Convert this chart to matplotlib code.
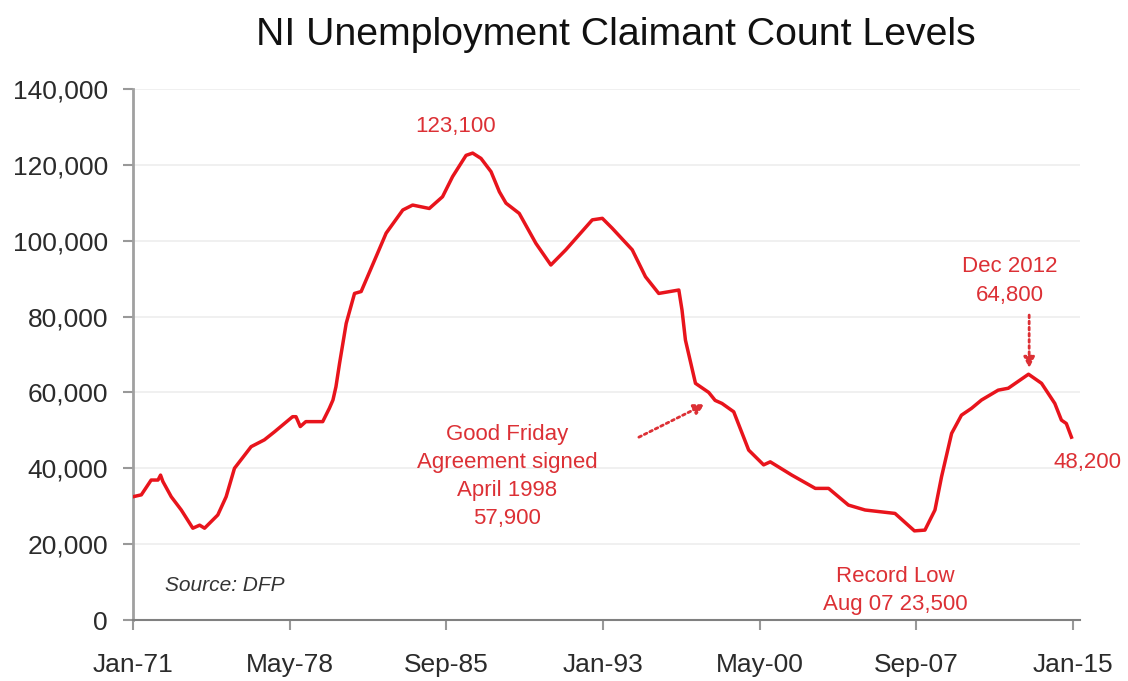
import matplotlib

matplotlib.use("Agg")
import matplotlib.pyplot as plt

plt.rcParams["font.family"] = ["Liberation Sans", "DejaVu Sans"]

# claimant count (decimal year, thousands)
years = [
    1971.00, 1971.39, 1971.85, 1972.17, 1972.29, 1972.40, 1972.79, 1973.26,
    1973.80, 1974.12, 1974.35, 1974.97, 1975.36, 1975.75, 1976.53, 1977.15,
    1977.62, 1978.47, 1978.63, 1978.83, 1979.09, 1979.88, 1980.19, 1980.36,
    1980.50, 1980.67, 1980.98, 1981.37, 1981.68, 1982.38, 1982.85, 1983.63,
    1984.09, 1984.87, 1985.49, 1985.96, 1986.59, 1986.90, 1987.29, 1987.76,
    1988.15, 1988.46, 1989.08, 1989.86, 1990.56, 1991.26, 1992.50, 1992.97,
    1993.43, 1994.37, 1994.99, 1995.61, 1996.55, 1996.70, 1996.86, 1997.33,
    1997.95, 1998.25, 1998.57, 1999.12, 1999.82, 2000.52, 2000.83, 2001.84,
    2002.94, 2003.56, 2004.49, 2005.27, 2006.67, 2007.58, 2008.07, 2008.54,
    2008.85, 2009.32, 2009.78, 2010.25, 2010.72, 2011.50, 2011.97, 2012.92,
    2013.53, 2014.15, 2014.46, 2014.69, 2014.93,
]
claimants = [
    32.5, 33.0, 36.9, 36.9, 38.2, 36.5, 32.5, 29.0,
    24.2, 25.0, 24.2, 27.7, 32.5, 40.0, 45.7, 47.5,
    49.6, 53.6, 53.6, 51.0, 52.3, 52.3, 55.8, 58.0,
    61.5, 67.7, 78.2, 86.1, 86.6, 95.8, 102.0, 108.1,
    109.4, 108.5, 111.6, 116.9, 122.5, 123.1, 121.7, 118.2,
    112.9, 109.9, 107.2, 99.3, 93.6, 97.6, 105.5, 105.9,
    103.3, 97.6, 90.5, 86.1, 87.0, 81.7, 73.8, 62.4,
    60.0, 57.9, 57.1, 54.9, 44.8, 40.9, 41.7, 38.2,
    34.7, 34.7, 30.3, 29.0, 28.1, 23.5, 23.7, 29.0,
    37.8, 49.2, 54.0, 55.8, 58.0, 60.6, 61.1, 64.8,
    62.4, 57.1, 52.7, 51.8, 48.2,
]

tick_years = [1971.0, 1978 + 4 / 12, 1985 + 8 / 12, 1993.0, 2000 + 4 / 12, 2007 + 8 / 12, 2015.0]
tick_labels = ["Jan-71", "May-78", "Sep-85", "Jan-93", "May-00", "Sep-07", "Jan-15"]
y_ticks = list(range(0, 140001, 20000))

LINE = "#e8141c"
NOTE = "#dc3035"

fig = plt.figure(figsize=(11.28, 6.81), dpi=100)
ax = fig.add_axes([133 / 1128, 1 - 620 / 681, (1080 - 133) / 1128, (620 - 89) / 681])

ax.plot(years, [c * 1000 for c in claimants], color=LINE, linewidth=2.5, zorder=3)

ax.set_xlim(1971.0, 2015.33)
ax.set_ylim(0, 140000)
ax.set_xticks(tick_years)
ax.set_xticklabels(tick_labels)
ax.set_yticks(y_ticks)
ax.set_yticklabels([f"{v:,}" for v in y_ticks])
ax.tick_params(axis="both", labelsize=19, colors="#999999", labelcolor="#2b2b2b", length=7, width=1.5)
ax.tick_params(axis="y", pad=11)
ax.tick_params(axis="x", pad=17)
ax.grid(True, axis="y", color="#eeeeee", linewidth=1.2)
ax.set_axisbelow(True)
for side in ("top", "right"):
    ax.spines[side].set_visible(False)
ax.spines["left"].set_color("#a0a0a0")
ax.spines["bottom"].set_color("#808080")
ax.spines["left"].set_linewidth(2)
ax.spines["bottom"].set_linewidth(1.5)

fig.text(616 / 1128, 1 - 35 / 681, "NI Unemployment Claimant Count Levels",
         ha="center", va="center", fontsize=28.3, color="#111111")

note_kw = dict(color=NOTE, fontsize=16, ha="center", va="center", linespacing=1.45)
ax.text(1986.1, 130000, "123,100", **note_kw)
ax.text(1988.52, 37800, "Good Friday\nAgreement signed\nApril 1998\n57,900", **note_kw)
ax.text(2012.06, 89400, "Dec 2012\n64,800", **note_kw)
ax.text(2015.7, 41400, "48,200", clip_on=False, **note_kw)
ax.text(2006.69, 7800, "Record Low\nAug 07 23,500", **note_kw)
ax.text(1972.49, 9200, "Source: DFP", fontsize=15, style="italic", color="#333333",
        ha="left", va="center")

arrow_kw = dict(arrowstyle="-|>", color=NOTE, linestyle=(0, (1, 1.2)), linewidth=2,
                mutation_scale=16, shrinkA=0, shrinkB=0)
ax.annotate("", xy=(1997.77, 56900), xytext=(1994.68, 48200), arrowprops=arrow_kw)
ax.annotate("", xy=(2012.95, 66400), xytext=(2012.95, 80400), arrowprops=arrow_kw)

fig.savefig("out.png", dpi=100)
plt.close(fig)
